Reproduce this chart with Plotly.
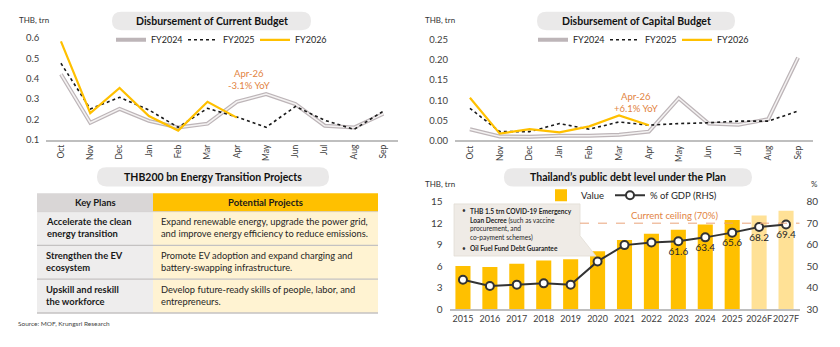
import plotly.graph_objects as go

W, H = 840, 347
FONT = "Lato"

# ---------------- data ----------------
months = ["Oct", "Nov", "Dec", "Jan", "Feb", "Mar", "Apr", "May", "Jun", "Jul", "Aug", "Sep"]
cur_fy2024 = [0.422, 0.183, 0.251, 0.192, 0.159, 0.178, 0.286, 0.324, 0.275, 0.168, 0.159, 0.227]
cur_fy2025 = [0.476, 0.251, 0.308, 0.246, 0.160, 0.254, 0.211, 0.160, 0.263, 0.195, 0.150, 0.240]
cur_fy2026 = [0.584, 0.230, 0.354, 0.216, 0.144, 0.286, 0.208]
cap_fy2024 = [0.028, 0.010, 0.009, 0.012, 0.012, 0.014, 0.022, 0.105, 0.042, 0.039, 0.053, 0.206]
cap_fy2025 = [0.080, 0.022, 0.022, 0.042, 0.028, 0.046, 0.038, 0.042, 0.044, 0.048, 0.048, 0.073]
cap_fy2026 = [0.106, 0.017, 0.028, 0.020, 0.035, 0.062, 0.038]

years = ["2015", "2016", "2017", "2018", "2019", "2020", "2021", "2022", "2023", "2024", "2025", "2026F", "2027F"]
debt_value = [6.02, 5.88, 6.33, 6.78, 6.96, 8.08, 9.66, 10.51, 11.09, 11.81, 12.44, 13.07, 13.74]
debt_gdp = [43.7, 40.8, 41.4, 42.0, 41.4, 52.2, 59.8, 61.0, 61.6, 63.4, 65.6, 68.2, 69.4]
debt_gdp_labels = ["", "", "", "", "", "", "", "", "61.6", "63.4", "65.6", "68.2", "69.4"]
forecast_years = ["2026F", "2027F"]
ceiling = 70

table_header = ["Key Plans", "Potential Projects"]
key_plans = ["Accelerate the clean<br>energy transition",
             "Strengthen the EV<br>ecosystem",
             "Upskill and reskill<br>the workforce"]
projects = ["Expand renewable energy, upgrade the power grid,<br>and improve energy efficiency to reduce emissions.",
            "Promote EV adoption and expand charging and<br>battery-swapping infrastructure.",
            "Develop future-ready skills of people, labor, and<br>entrepreneurs."]

# ---------------- styles ----------------
YEL = "#FFC000"
YEL_LIGHT = "#FFE196"
GREY_OUT = "#BDB5B8"
GREY_IN = "#F4F2F2"
ORANGE = "#E2843F"
TXT = "#262626"
AXC = "#BFBFBF"


def fx(px):
    return px / W


def fy(py):
    return 1 - py / H


def pill_path(x0, y0, x1, y1, r):
    pts = [("M", [(x0 + r, y0)]), ("L", [(x1 - r, y0)]), ("Q", [(x1, y0), (x1, y0 + r)]),
           ("L", [(x1, y1 - r)]), ("Q", [(x1, y1), (x1 - r, y1)]), ("L", [(x0 + r, y1)]),
           ("Q", [(x0, y1), (x0, y1 - r)]), ("L", [(x0, y0 + r)]), ("Q", [(x0, y0), (x0 + r, y0)])]
    s = ""
    for cmd, ps in pts:
        s += cmd + " ".join(f"{fx(a):.5f},{fy(b):.5f}" for a, b in ps) + " "
    return s + "Z"


def poly_path(points):
    s = "M" + " L".join(f"{fx(a):.5f},{fy(b):.5f}" for a, b in points)
    return s + " Z"


fig = go.Figure()

# ---------- chart 1: current budget ----------
fig.add_trace(go.Scatter(x=months, y=cur_fy2024, mode="lines", name="FY2024",
                         line=dict(color=GREY_OUT, width=4), xaxis="x", yaxis="y", legend="legend"))
fig.add_trace(go.Scatter(x=months, y=cur_fy2024, mode="lines", showlegend=False, hoverinfo="skip",
                         line=dict(color=GREY_IN, width=1.5), xaxis="x", yaxis="y"))
fig.add_trace(go.Scatter(x=months, y=cur_fy2025, mode="lines", name="FY2025",
                         line=dict(color="#1A1A1A", width=1.6, dash="dot"), xaxis="x", yaxis="y", legend="legend"))
fig.add_trace(go.Scatter(x=months[:len(cur_fy2026)], y=cur_fy2026, mode="lines", name="FY2026",
                         line=dict(color=YEL, width=2.2), xaxis="x", yaxis="y", legend="legend"))

# ---------- chart 2: capital budget ----------
fig.add_trace(go.Scatter(x=months, y=cap_fy2024, mode="lines", name="FY2024",
                         line=dict(color=GREY_OUT, width=4), xaxis="x2", yaxis="y2", legend="legend2"))
fig.add_trace(go.Scatter(x=months, y=cap_fy2024, mode="lines", showlegend=False, hoverinfo="skip",
                         line=dict(color=GREY_IN, width=1.5), xaxis="x2", yaxis="y2"))
fig.add_trace(go.Scatter(x=months, y=cap_fy2025, mode="lines", name="FY2025",
                         line=dict(color="#1A1A1A", width=1.6, dash="dot"), xaxis="x2", yaxis="y2", legend="legend2"))
fig.add_trace(go.Scatter(x=months[:len(cap_fy2026)], y=cap_fy2026, mode="lines", name="FY2026",
                         line=dict(color=YEL, width=2.2), xaxis="x2", yaxis="y2", legend="legend2"))

# ---------- chart 3: public debt ----------
bar_colors = [YEL_LIGHT if y in forecast_years else YEL for y in years]
fig.add_trace(go.Bar(x=years, y=debt_value, name="Value", marker=dict(color=bar_colors, line=dict(width=0)),
                     xaxis="x3", yaxis="y3", legend="legend3"))
fig.add_trace(go.Scatter(x=years, y=debt_gdp, name="% of GDP (RHS)", mode="lines+markers+text",
                         text=debt_gdp_labels, textposition="bottom center",
                         textfont=dict(family=FONT, size=10, color=TXT),
                         line=dict(color="#333333", width=2),
                         marker=dict(size=8, color="white", line=dict(color="#333333", width=2)),
                         xaxis="x3", yaxis="y4", legend="legend4"))

tickfont = dict(family=FONT, size=9.5, color="#404040")
monthfont = dict(family=FONT, size=8.5, color="#404040")
legfont = dict(family=FONT, size=9, color=TXT)

layout = dict(
    width=W, height=H, margin=dict(l=0, r=0, t=0, b=0),
    paper_bgcolor="white", plot_bgcolor="white",
    font=dict(family=FONT, color=TXT),
    showlegend=True, bargap=0.44,
    xaxis=dict(domain=[fx(46.3), fx(398)], anchor="y", type="category", range=[-0.5, 11.5],
               tickangle=-90, tickfont=monthfont, showline=True, linecolor=AXC, linewidth=1.5,
               ticks="", showgrid=False, zeroline=False),
    yaxis=dict(domain=[fy(138.3), fy(33.3)], anchor="x", range=[0.1, 0.6], dtick=0.1, tickformat=".1f",
               tickfont=tickfont, showgrid=False, zeroline=False, showline=False, ticklabelstandoff=6),
    xaxis2=dict(domain=[fx(455), fx(813)], anchor="y2", type="category", range=[-0.5, 11.5],
                tickangle=-90, tickfont=monthfont, showline=True, linecolor=AXC, linewidth=1.5,
                ticks="", showgrid=False, zeroline=False),
    yaxis2=dict(domain=[fy(139.3), fy(35)], anchor="x2", range=[0, 0.25], dtick=0.05, tickformat=".2f",
                tickfont=tickfont, showgrid=False, zeroline=False, showline=False, ticklabelstandoff=6),
    xaxis3=dict(domain=[fx(449.5), fx(799.5)], anchor="y3", type="category", range=[-0.5, 12.5],
                tickangle=0, tickfont=dict(family=FONT, size=9, color="#404040"), showline=True,
                linecolor=AXC, linewidth=1.5, ticks="", showgrid=False, zeroline=False),
    yaxis3=dict(domain=[fy(314), fy(202.7)], anchor="x3", range=[0, 15], dtick=3,
                tickfont=dict(family=FONT, size=10, color="#404040"), showgrid=False, zeroline=False,
                showline=False, ticklabelstandoff=6),
    yaxis4=dict(overlaying="y3", anchor="x3", side="right", range=[30, 80], dtick=10,
                tickfont=dict(family=FONT, size=10, color="#404040"), showgrid=False, zeroline=False,
                showline=False, ticklabelstandoff=6),
    legend=dict(orientation="h", x=fx(111), y=fy(35), xanchor="left", yanchor="middle",
                font=legfont, bgcolor="rgba(0,0,0,0)", itemwidth=30, entrywidth=27),
    legend2=dict(orientation="h", x=fx(533), y=fy(35), xanchor="left", yanchor="middle",
                 font=legfont, bgcolor="rgba(0,0,0,0)", itemwidth=30, entrywidth=27),
    legend3=dict(orientation="h", x=fx(541), y=fy(196), xanchor="left", yanchor="middle",
                 font=dict(family=FONT, size=9.5, color=TXT), bgcolor="rgba(0,0,0,0)", itemwidth=30),
    legend4=dict(orientation="h", x=fx(610), y=fy(196), xanchor="left", yanchor="middle",
                 font=dict(family=FONT, size=9.5, color=TXT), bgcolor="rgba(0,0,0,0)", itemwidth=30),
)
fig.update_layout(**layout)

shapes = []
ann = []


def txt(x, y, text, size, color=TXT, xanchor="left", bold=False, align="left"):
    ann.append(dict(x=x, y=y, xref="paper", yref="paper", text=f"<b>{text}</b>" if bold else text,
                    showarrow=False, xanchor=xanchor, yanchor="middle", align=align,
                    font=dict(family=FONT, size=size, color=color)))


# title pills
for (x0, y0, x1, y1) in [(112, 6, 311, 25), (537, 6, 735, 25), (97, 167, 329, 187), (504, 168, 752, 187)]:
    shapes.append(dict(type="path", path=pill_path(x0, y0, x1, y1, 9.5), xref="paper", yref="paper",
                       fillcolor="#EAE9E9", line=dict(width=0), layer="below"))

# ---------- table (cells built from the lists) ----------
TX0, TXS, TX1 = 37, 153, 378
HY0, HY1 = 194, 213
ROW_H = 35
col_fill_head = ["#D9D6D6", YEL]
col_fill_body = ["#EEEDED", "#FFF3D2"]
cols = [(TX0, TXS), (TXS, TX1)]
for c, (cx0, cx1) in enumerate(cols):
    shapes.append(dict(type="rect", xref="paper", yref="paper", x0=fx(cx0), x1=fx(cx1), y0=fy(HY1), y1=fy(HY0),
                       fillcolor=col_fill_head[c], line=dict(width=0), layer="below"))
    txt(fx((cx0 + cx1) / 2), fy((HY0 + HY1) / 2), table_header[c], 9.5, "#1A1A1A", "center", True)
for r, (kp, pj) in enumerate(zip(key_plans, projects)):
    ry0 = HY1 + r * ROW_H
    ry1 = ry0 + ROW_H
    for c, (cx0, cx1) in enumerate(cols):
        shapes.append(dict(type="rect", xref="paper", yref="paper", x0=fx(cx0), x1=fx(cx1), y0=fy(ry1),
                           y1=fy(ry0), fillcolor=col_fill_body[c], line=dict(width=0), layer="below"))
    txt(fx(TX0 + 7), fy(ry0 + 16.5), kp, 9.4, "#1A1A1A", bold=True)
    txt(fx(TXS + 6), fy(ry0 + 16.5), pj, 9.3, "#262626")
    shapes.append(dict(type="line", xref="paper", yref="paper", x0=fx(TX0), x1=fx(TX1), y0=fy(ry1), y1=fy(ry1),
                       line=dict(color="#C4C2C2", width=1.3)))
shapes.append(dict(type="line", xref="paper", yref="paper", x0=fx(TX0), x1=fx(TX1), y0=fy(HY1), y1=fy(HY1),
                   line=dict(color="#D0CDCD", width=0.8)))

# callout bubble
shapes.append(dict(type="path", path=poly_path([(454, 205), (580, 205), (580, 238), (596, 259), (454, 259)]),
                   xref="paper", yref="paper", fillcolor="#EFEBE6", line=dict(color="#E2DDD6", width=0.8)))
# debt ceiling
shapes.append(dict(type="line", xref="x3 domain", yref="y4", x0=(580 - 449.5) / 350, x1=1,
                   y0=ceiling, y1=ceiling, line=dict(color="#E9A47A", width=1, dash="dash")))
fig.update_layout(shapes=shapes)

# titles
txt(fx(211.5), fy(15.5), "Disbursement of Current Budget", 10.5, "#111", "center", True)
txt(fx(636), fy(15.5), "Disbursement of Capital Budget", 10.5, "#111", "center", True)
txt(fx(213), fy(177), "THB200 bn Energy Transition Projects", 10.5, "#111", "center", True)
txt(fx(628), fy(177.5), "Thailand’s public debt level under the Plan", 10.5, "#111", "center", True)
# axis unit labels
txt(fx(17), fy(15), "THB, trn", 8, "#333")
txt(fx(423), fy(15), "THB, trn", 8, "#333")
txt(fx(423), fy(184), "THB, trn", 8, "#333")
txt(fx(809), fy(184), "%", 8, "#333")
# YoY notes
ann.append(dict(x="Apr", y=0.397, xref="x", yref="y", xshift=12, text="Apr-26<br>-3.1% YoY", showarrow=False,
                font=dict(family=FONT, size=9.5, color=ORANGE), align="center"))
ann.append(dict(x="Apr", y=0.094, xref="x2", yref="y2", xshift=-13, text="Apr-26<br>+6.1% YoY", showarrow=False,
                font=dict(family=FONT, size=9.5, color=ORANGE), align="center"))
# ceiling label (category index of 2023)
ann.append(dict(x=years.index("2023"), y=73.6, xref="x3", yref="y4", text="Current ceiling (70%)",
                showarrow=False, xshift=-4, font=dict(family=FONT, size=9.5, color=ORANGE)))
# callout text
cfs = 6.6
txt(fx(460), fy(211.5), "•", cfs, "#333")
ann.append(dict(x=fx(468), y=fy(206), xref="paper", yref="paper", xanchor="left", yanchor="top", align="left",
                showarrow=False, font=dict(family=FONT, size=cfs, color="#262626"),
                text="<b>THB 1.5 trn COVID-19 Emergency</b><br><b>Loan Decree</b> (such as vaccine<br>"
                     "procurement, and<br>co-payment schemes)"))
txt(fx(460), fy(251), "•", cfs, "#333")
txt(fx(468), fy(251), "Oil Fuel Fund Debt Guarantee", cfs, "#262626", bold=True)
# source
txt(fx(16), fy(329), "Source: MOF, Krungsri Research", 6.5, "#444")

fig.update_layout(annotations=ann)
fig.write_html("out.html")
